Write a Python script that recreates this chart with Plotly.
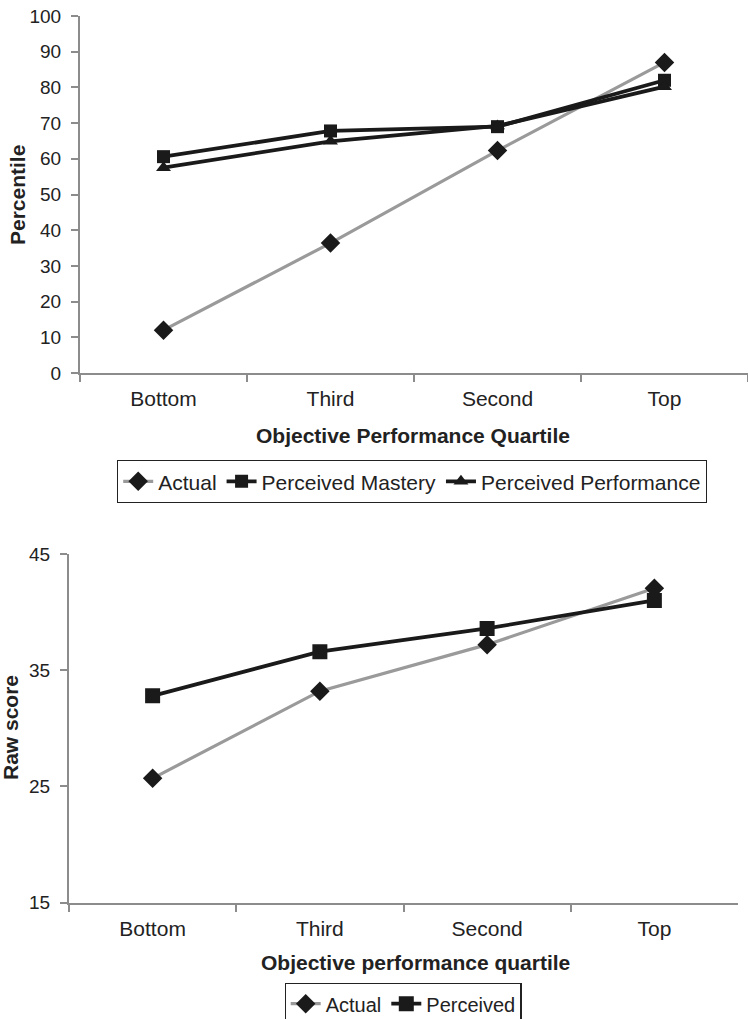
import plotly.graph_objects as go

W, H = 748, 1019

categories = ["Bottom", "Third", "Second", "Top"]

# Top chart (percentile)
actual_pct = [12.0, 36.4, 62.3, 87.0]
mastery_pct = [60.6, 67.8, 69.0, 82.0]
performance_pct = [57.5, 64.9, 69.2, 80.2]

# Bottom chart (raw score)
actual_raw = [25.7, 33.2, 37.2, 42.05]
perceived_raw = [32.8, 36.6, 38.6, 41.0]

FONT = "Liberation Sans, Arial, sans-serif"
GRAY_LINE = "#9a9a9a"
BLACK = "#1a1a1a"
AXIS = "#8c8c8c"
TXT = "#222"

fig = go.Figure()

# top chart traces
fig.add_trace(go.Scatter(x=categories, y=actual_pct, name="Actual", mode="lines+markers",
                         line=dict(color=GRAY_LINE, width=3.2),
                         marker=dict(symbol="diamond", size=15, color=BLACK),
                         xaxis="x", yaxis="y", legend="legend"))
fig.add_trace(go.Scatter(x=categories, y=mastery_pct, name="Perceived Mastery", mode="lines+markers",
                         line=dict(color=BLACK, width=3.8),
                         marker=dict(symbol="square", size=13, color=BLACK),
                         xaxis="x", yaxis="y", legend="legend"))
fig.add_trace(go.Scatter(x=categories, y=performance_pct, name="Perceived Performance", mode="lines+markers",
                         line=dict(color=BLACK, width=3.8),
                         marker=dict(symbol="triangle-up", size=13, color=BLACK),
                         xaxis="x", yaxis="y", legend="legend"))

# bottom chart traces
fig.add_trace(go.Scatter(x=categories, y=actual_raw, name="Actual", mode="lines+markers",
                         line=dict(color=GRAY_LINE, width=3.2),
                         marker=dict(symbol="diamond", size=15, color=BLACK),
                         xaxis="x2", yaxis="y2", legend="legend2"))
fig.add_trace(go.Scatter(x=categories, y=perceived_raw, name="Perceived", mode="lines+markers",
                         line=dict(color=BLACK, width=3.8),
                         marker=dict(symbol="square", size=15, color=BLACK),
                         xaxis="x2", yaxis="y2", legend="legend2"))

xcommon = dict(type="category", range=[-0.5, 3.5], showline=True, linecolor=AXIS, linewidth=2,
               ticks="outside", tickson="boundaries", ticklen=7, tickcolor=AXIS, tickwidth=1.5,
               showgrid=False, zeroline=False, ticklabelstandoff=6,
               tickfont=dict(family=FONT, size=21, color=TXT), fixedrange=True)
ycommon = dict(showline=True, linecolor=AXIS, linewidth=2, ticks="outside", ticklen=7,
               tickcolor=AXIS, tickwidth=1.5, showgrid=False, zeroline=False, ticklabelstandoff=6,
               tickfont=dict(family=FONT, size=19, color=TXT), fixedrange=True)

legfont = dict(family=FONT, size=21, color=TXT)
legfont2 = dict(family=FONT, size=20, color=TXT)
titlefont = dict(family=FONT, size=21, color=TXT)

fig.update_layout(
    width=W, height=H,
    margin=dict(l=0, r=0, t=0, b=0, autoexpand=False),
    paper_bgcolor="white", plot_bgcolor="white",
    font=dict(family=FONT, color=TXT),
    xaxis=dict(domain=[80 / W, 1.0], anchor="y", **xcommon),
    yaxis=dict(domain=[1 - 373 / H, 1 - 16 / H], anchor="x", range=[0, 100],
               tick0=0, dtick=10, **ycommon),
    xaxis2=dict(domain=[69 / W, 738 / W], anchor="y2", **xcommon),
    yaxis2=dict(domain=[1 - 902.7 / H, 1 - 554 / H], anchor="x2", range=[15, 45],
                tick0=15, dtick=10, **ycommon),
    legend=dict(orientation="h", x=412 / W, xanchor="center", y=1 - 460 / H, yanchor="top",
                bordercolor=TXT, borderwidth=1.2, font=legfont,
                itemwidth=30, tracegroupgap=0),
    legend2=dict(orientation="h", x=403 / W, xanchor="center", y=1 - 983 / H, yanchor="top",
                 bordercolor=TXT, borderwidth=1.2, font=legfont2,
                 itemwidth=30, tracegroupgap=0),
    annotations=[
        dict(text="<b>Objective Performance Quartile</b>", xref="paper", yref="paper",
             x=413 / W, y=1 - 435 / H, xanchor="center", yanchor="middle", showarrow=False,
             font=titlefont),
        dict(text="<b>Percentile</b>", xref="paper", yref="paper", textangle=-90,
             x=17 / W, y=1 - 195 / H, xanchor="center", yanchor="middle", showarrow=False,
             font=titlefont),
        dict(text="<b>Objective performance quartile</b>", xref="paper", yref="paper",
             x=415 / W, y=1 - 962 / H, xanchor="center", yanchor="middle", showarrow=False,
             font=titlefont),
        dict(text="<b>Raw score</b>", xref="paper", yref="paper", textangle=-90,
             x=10 / W, y=1 - 728 / H, xanchor="center", yanchor="middle", showarrow=False,
             font=titlefont),
    ],
)

fig.write_html("out.html",
               config={"displayModeBar": False, "staticPlot": False},
               post_script="document.body.style.margin='0';document.body.style.overflow='hidden';")
